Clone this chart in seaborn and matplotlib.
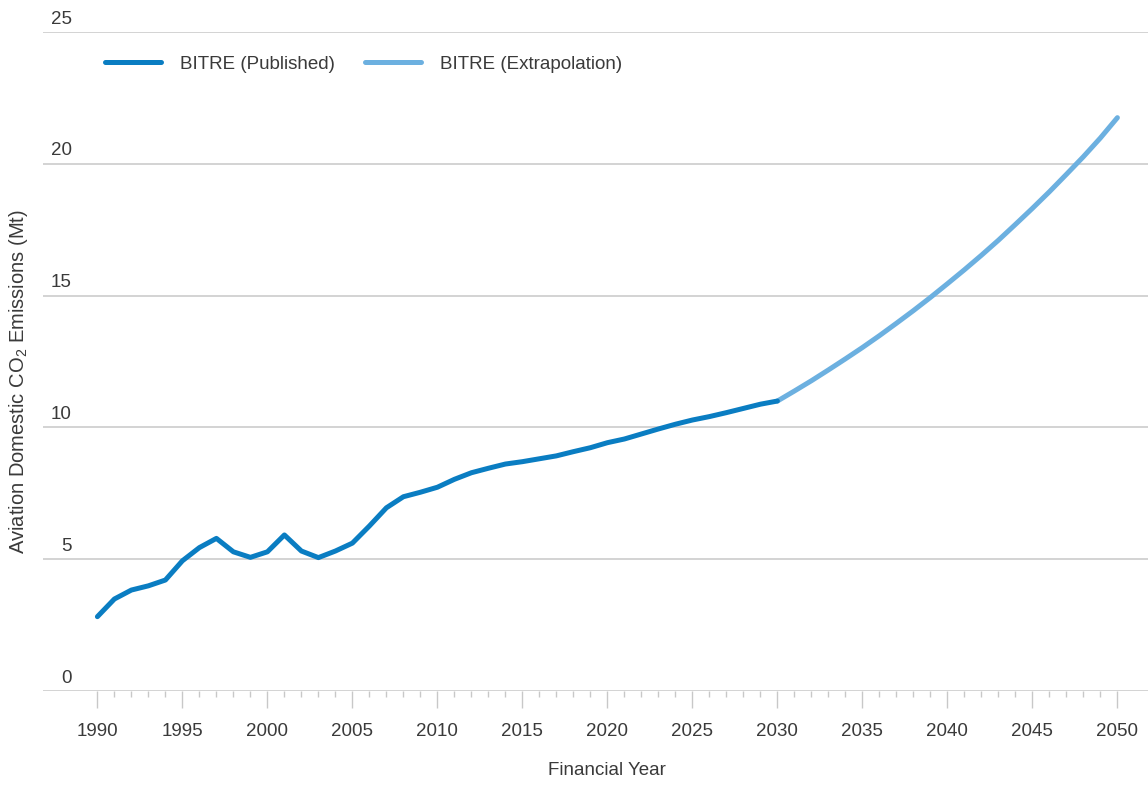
import numpy as np
import pandas as pd
import seaborn as sns
import matplotlib.pyplot as plt
from matplotlib.ticker import FixedLocator

# published series
pub_years = list(range(1990, 2031))
pub_values = [2.82, 3.49, 3.83, 3.99, 4.21, 4.94, 5.44, 5.79, 5.28, 5.07,
              5.28, 5.92, 5.31, 5.06, 5.31, 5.61, 6.26, 6.95, 7.37, 7.54,
              7.73, 8.03, 8.28, 8.45, 8.61, 8.70, 8.81, 8.92, 9.08, 9.23,
              9.42, 9.56, 9.75, 9.94, 10.12, 10.28, 10.41, 10.56, 10.72, 10.88,
              11.00]

# extrapolation
ext_years = list(range(2030, 2051))
ext_values = [11.00, 11.38, 11.77, 12.18, 12.60, 13.03, 13.48, 13.95, 14.43, 14.93,
              15.45, 15.98, 16.53, 17.10, 17.70, 18.31, 18.94, 19.60, 20.27, 20.98,
              21.75]

y_ticks = [0, 5, 10, 15, 20, 25]
x_ticks = list(range(1990, 2051, 5))
x_minor = list(range(1990, 2051))

sns.set_style('white')
plt.rcParams['font.family'] = ['Liberation Sans', 'DejaVu Sans']
plt.rcParams['mathtext.fontset'] = 'custom'
plt.rcParams['mathtext.rm'] = 'Liberation Sans'
plt.rcParams['mathtext.it'] = 'Liberation Sans'
plt.rcParams['mathtext.bf'] = 'Liberation Sans'

txt = '#3a3a3a'
grid = '#c8c8c8'

fig = plt.figure(figsize=(11.48, 7.89), dpi=100)
ax = fig.add_axes([43 / 1148, 98 / 789, 1105 / 1148, 659 / 789])

pub = pd.DataFrame({'year': pub_years, 'value': pub_values})
ext = pd.DataFrame({'year': ext_years, 'value': ext_values})

sns.lineplot(data=ext, x='year', y='value', ax=ax, color='#6cb0e0', lw=3.6,
             label='BITRE (Extrapolation)', solid_capstyle='round')
sns.lineplot(data=pub, x='year', y='value', ax=ax, color='#0a7dc2', lw=3.6,
             label='BITRE (Published)', solid_capstyle='round')

ax.set_xlim(1986.8, 2051.8)
ax.set_ylim(0, 25)

# gridlines + labels sitting above them
for v in y_ticks:
    ax.axhline(v, color=grid, lw=1.1, zorder=0)
    ax.text(0.026, v + 0.17, str(v), transform=ax.get_yaxis_transform(),
            ha='right', va='bottom', fontsize=13.5, color=txt)
ax.set_yticks([])

for s in ['top', 'right', 'left', 'bottom']:
    ax.spines[s].set_visible(False)

ax.set_xticks(x_ticks)
ax.xaxis.set_minor_locator(FixedLocator(x_minor))
ax.tick_params(axis='x', which='major', length=12, width=1, color=grid,
               labelsize=13.5, labelcolor=txt, pad=11, bottom=True)
ax.tick_params(axis='x', which='minor', length=4.5, width=1, color=grid, bottom=True)

ax.set_xlabel('Financial Year', fontsize=13.5, color=txt, labelpad=16)
ax.xaxis.label.set_x((2020 - 1986.8) / (2051.8 - 1986.8))
ax.set_ylabel(r'Aviation Domestic CO$_2$ Emissions (Mt)', fontsize=14.5, color=txt,
              labelpad=9)
ax.yaxis.label.set_y(0.47)

h, l = ax.get_legend_handles_labels()
ax.legend(h[::-1], l[::-1], loc='center left', bbox_to_anchor=(0.056, 0.951),
          ncol=2, frameon=False, fontsize=13.5, handlelength=3.0, handletextpad=1.0,
          columnspacing=1.6, borderpad=0, borderaxespad=0, labelcolor=txt)

fig.savefig('out.png', dpi=100)
